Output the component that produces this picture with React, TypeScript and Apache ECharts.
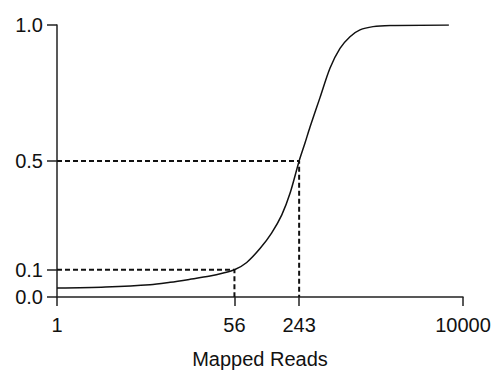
import React, { useEffect, useRef } from "react";
import * as echarts from "echarts";

const mappedReads = [1, 3, 8.25, 13, 20.4, 32.2, 43.5, 56, 74, 100, 130, 164, 198, 243, 277, 311, 390, 490, 614, 770, 966, 1300, 1910, 7260];
const fraction = [0.033, 0.037, 0.045, 0.054, 0.065, 0.077, 0.088, 0.1, 0.127, 0.178, 0.235, 0.302, 0.382, 0.5, 0.565, 0.625, 0.733, 0.842, 0.914, 0.957, 0.982, 0.994, 0.998, 1.0];

const xTicks = [1, 56, 243, 10000];
const yTicks = [0, 0.1, 0.5, 1];

const guide10 = [[1, 0.1], [56, 0.1], [56, 0]];
const guide50 = [[1, 0.5], [243, 0.5], [243, 0]];

export default function App() {
  const ref = useRef<HTMLDivElement>(null);
  useEffect(() => {
    if (!ref.current) return;
    const chart = echarts.init(ref.current, null, { renderer: "svg" });
    const font = "Liberation Sans, Arial, sans-serif";
    const axisColor = "#222";
    const dashed = {
      type: "line",
      showSymbol: false,
      symbol: "none",
      lineStyle: { color: "#111", width: 2, type: [5, 3] },
      z: 1,
    };
    chart.setOption({
      animation: false,
      backgroundColor: "#fff",
      grid: { left: 57, right: 33, top: 25, bottom: 80, containLabel: false, outerBoundsMode: "none" },
      xAxis: {
        type: "log",
        logBase: 10,
        min: 1,
        max: 10000,
        name: "Mapped Reads",
        nameLocation: "middle",
        nameGap: 52,
        nameTextStyle: { fontFamily: font, fontSize: 20, color: "#111" },
        axisLine: { show: true, lineStyle: { color: axisColor, width: 1.5 } },
        axisTick: { show: true, length: 9, customValues: xTicks, lineStyle: { color: axisColor, width: 1.5 } },
        axisLabel: {
          customValues: xTicks,
          margin: 18,
          fontFamily: font,
          fontSize: 20,
          color: "#111",
          formatter: (v: number) => String(Math.round(v)),
        },
        splitLine: { show: false },
        minorTick: { show: false },
      },
      yAxis: {
        type: "value",
        min: 0,
        max: 1,
        axisLine: { show: true, lineStyle: { color: axisColor, width: 1.5 } },
        axisTick: { show: true, length: 10, customValues: yTicks, lineStyle: { color: axisColor, width: 1.5 } },
        axisLabel: {
          customValues: yTicks,
          margin: 14,
          fontFamily: font,
          fontSize: 20,
          color: "#111",
          formatter: (v: number) => v.toFixed(1),
        },
        splitLine: { show: false },
      },
      series: [
        { ...dashed, data: guide10 },
        { ...dashed, data: guide50 },
        {
          type: "line",
          data: mappedReads.map((x, i) => [x, fraction[i]]),
          showSymbol: false,
          symbol: "none",
          smooth: 0.3,
          lineStyle: { color: "#111", width: 1.5 },
          z: 2,
        },
      ],
    });
    return () => chart.dispose();
  }, []);
  return <div ref={ref} style={{ width: 496, height: 377, position: "absolute", left: 0, top: 0 }} />;
}
